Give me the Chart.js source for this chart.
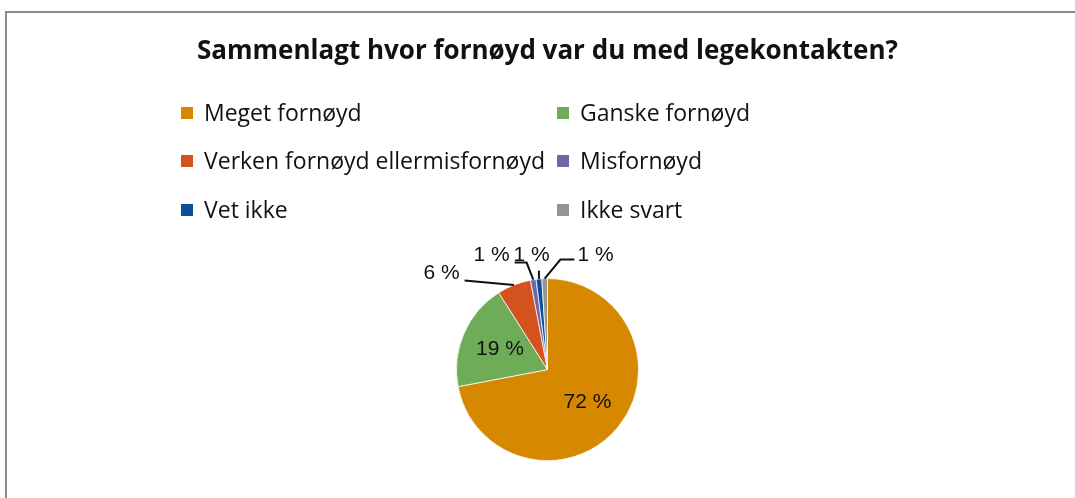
<!DOCTYPE html>
<html>
<head>
<meta charset="utf-8">
<script src="https://cdn.jsdelivr.net/npm/chart.js@4"></script>
<style>
  html, body { margin: 0; padding: 0; background: #fff; }
  #wrap { position: relative; width: 1075px; height: 498px; overflow: hidden; }
  #frame { position: absolute; left: 5px; top: 11px; width: 1200px; height: 600px;
           border-top: 2px solid #8c8c8c; border-left: 2px solid #8c8c8c; }
  #chart { position: absolute; left: 0; top: 0; }
  #legend { position: absolute; left: 0; top: 0; font-family: "Open Sans", "Liberation Sans", sans-serif;
            font-size: 23px; color: #111; }
  .item { position: absolute; white-space: nowrap; line-height: 24px; }
  .item span.box { display: inline-block; width: 12px; height: 12px; margin-right: 11px; vertical-align: 2px; }
</style>
</head>
<body>
<div id="wrap">
  <div id="frame"></div>
  <canvas id="chart" width="1075" height="498"></canvas>
  <div id="legend"></div>
</div>
<script>
const categories = ['Meget fornøyd', 'Ganske fornøyd', 'Verken fornøyd ellermisfornøyd', 'Misfornøyd', 'Vet ikke', 'Ikke svart'];
const percentValues = [72, 19, 6, 1, 1, 1];
const percentLabels = ['72 %', '19 %', '6 %', '1 %', '1 %', '1 %'];
const sliceColors = ['#D68800', '#6FAC58', '#D4521E', '#7265A8', '#0D4F96', '#959595'];

// label layout: inside labels as fraction of radius, outside ones as offsets from pie centre
const insideRadius = 0.57;
const outsidePos = { 2: [-106, -96], 3: [-56, -114], 4: [-16, -114], 5: [48, -114] };
const labelFont = '21px "Liberation Sans", Arial, sans-serif';

const pieLabels = {
    id: 'pieLabels',
    afterDatasetsDraw(chart) {
        const ctx = chart.ctx;
        const arcs = chart.getDatasetMeta(0).data;
        ctx.save();
        ctx.font = labelFont;
        ctx.fillStyle = '#111';
        ctx.strokeStyle = '#111';
        ctx.lineWidth = 2;
        ctx.textAlign = 'center';
        ctx.textBaseline = 'middle';
        arcs.forEach((arc, i) => {
            const p = arc.getProps(['x', 'y', 'startAngle', 'endAngle', 'outerRadius']);
            const mid = (p.startAngle + p.endAngle) / 2;
            const text = percentLabels[i];
            if (!outsidePos[i]) {
                const r = p.outerRadius * insideRadius;
                ctx.fillText(text, p.x + Math.cos(mid) * r, p.y + Math.sin(mid) * r);
                return;
            }
            const lx = p.x + outsidePos[i][0];
            const ly = p.y + outsidePos[i][1];
            const w = ctx.measureText(text).width;
            ctx.fillText(text, lx, ly);
            // leader line from slice edge to label
            const ex = p.x + Math.cos(mid) * p.outerRadius;
            const ey = p.y + Math.sin(mid) * p.outerRadius;
            ctx.beginPath();
            ctx.moveTo(ex, ey);
            if (ex > lx - w / 2 && ex < lx + w / 2) {
                ctx.lineTo(ex, ly + 15);
            } else if (ex > lx) {
                const sx = lx + w / 2 + 5;
                const yy = ly + 7;
                if (i === 2) {
                    ctx.lineTo(sx, yy);
                } else {
                    ctx.lineTo(sx + 12, yy);
                    ctx.lineTo(sx, yy);
                }
            } else {
                const sx = lx - w / 2 - 3;
                const yy = ly + 4;
                ctx.lineTo(sx - 14, yy);
                ctx.lineTo(sx, yy);
            }
            ctx.stroke();
        });
        ctx.restore();
    }
};

const chart = new Chart(document.getElementById('chart'), {
    type: 'pie',
    data: {
        labels: categories,
        datasets: [{
            data: percentValues,
            backgroundColor: sliceColors,
            borderColor: '#ffffff',
            borderWidth: 0.75
        }]
    },
    options: {
        responsive: false,
        animation: false,
        events: [],
        layout: { padding: { left: 100, right: 80, top: 0, bottom: 37 } },
        plugins: {
            legend: { display: false },
            tooltip: { enabled: false },
            title: {
                display: true,
                text: 'Sammenlagt hvor fornøyd var du med legekontakten?',
                color: '#111',
                font: { family: '"Open Sans", "Liberation Sans", sans-serif', size: 26, weight: 'bold', lineHeight: 1.2 },
                padding: { top: 36, bottom: 211 }
            }
        }
    },
    plugins: [pieLabels]
});

// legend in two columns, built from chart data
const legendEl = document.getElementById('legend');
const colX = [181, 557];
const rowY = [100, 148, 197];
chart.data.labels.forEach((label, i) => {
    const item = document.createElement('div');
    item.className = 'item';
    item.style.left = colX[i % 2] + 'px';
    item.style.top = rowY[Math.floor(i / 2)] + 'px';
    item.innerHTML = '<span class="box" style="background:' + sliceColors[i] + '"></span>' + label;
    legendEl.appendChild(item);
});
</script>
</body>
</html>
